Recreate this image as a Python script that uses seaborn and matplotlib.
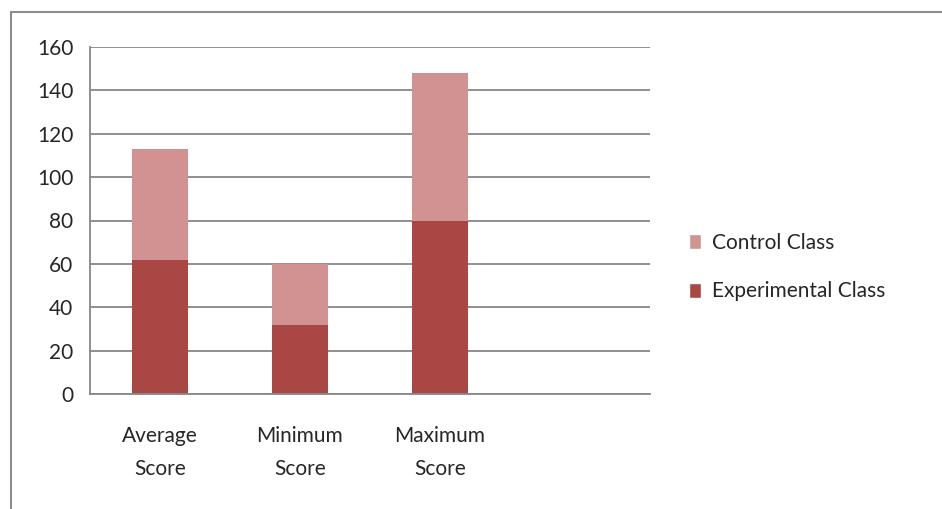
import matplotlib
matplotlib.use("Agg")
import matplotlib.pyplot as plt
import seaborn as sns
import pandas as pd
from matplotlib.lines import Line2D
from matplotlib.patches import Patch

categories = ["Average\nScore", "Minimum\nScore", "Maximum\nScore"]
experimental = [62, 32, 80]
control = [51, 28, 68]
yticks = [0, 20, 40, 60, 80, 100, 120, 140, 160]

c_ctrl = "#D39292"
c_exp = "#A94744"
grey = "#878787"

sns.set_style("white")
plt.rcParams["font.family"] = ["Lato", "DejaVu Sans"]
fs = 15

df = pd.DataFrame({"cat": categories,
                   "exp": experimental,
                   "total": [e + c for e, c in zip(experimental, control)]})

fig = plt.figure(figsize=(9.42, 5.09), dpi=100)
ax = fig.add_axes([90 / 942, 115 / 509, 560 / 942, 347 / 509])

sns.barplot(data=df, x="cat", y="total", color=c_ctrl, width=0.4,
            saturation=1, ax=ax, order=categories)
sns.barplot(data=df, x="cat", y="exp", color=c_exp, width=0.4,
            saturation=1, ax=ax, order=categories)
for p in ax.patches:
    p.set_edgecolor("none")

ax.set_xlim(-0.5, 3.5)
ax.set_ylim(0, 160)
ax.set_yticks(yticks)
ax.set_yticklabels([str(v) for v in yticks], fontsize=fs)
ax.yaxis.grid(True, color=grey, linewidth=1.3)
ax.set_axisbelow(True)
ax.set_xlabel("")
ax.set_ylabel("")

ax.set_xticks([0, 1, 2])
ax.set_xticklabels(categories, fontsize=fs, linespacing=1.8)
ax.tick_params(axis="x", length=0, pad=23)
ax.set_xticks([-0.5, 0.5, 1.5, 2.5, 3.5], minor=True)
ax.tick_params(axis="x", which="minor", length=6, color=grey, width=1.2, direction="out")
ax.tick_params(axis="y", length=6, color=grey, width=1.2, direction="out", pad=6)

for s in ["top", "right"]:
    ax.spines[s].set_visible(False)
for s in ["left", "bottom"]:
    ax.spines[s].set_color(grey)
    ax.spines[s].set_linewidth(1.3)

handles = [Patch(facecolor=c_ctrl, label="Control Class"),
           Patch(facecolor=c_exp, label="Experimental Class")]
fig.legend(handles=handles, loc="center left", bbox_to_anchor=(670 / 942, 1 - 267 / 509),
           frameon=False, fontsize=fs, handlelength=0.6, handleheight=0.72,
           handletextpad=0.5, labelspacing=1.38)

# document frame (top and left edges visible)
fig.lines.append(Line2D([11 / 942, 11 / 942], [0, 1 - 12 / 509], transform=fig.transFigure,
                        color="#8c8c8c", linewidth=1.5))
fig.lines.append(Line2D([11 / 942, 1], [1 - 12 / 509, 1 - 12 / 509], transform=fig.transFigure,
                        color="#8c8c8c", linewidth=1.5))

fig.savefig("out.png", dpi=100)
